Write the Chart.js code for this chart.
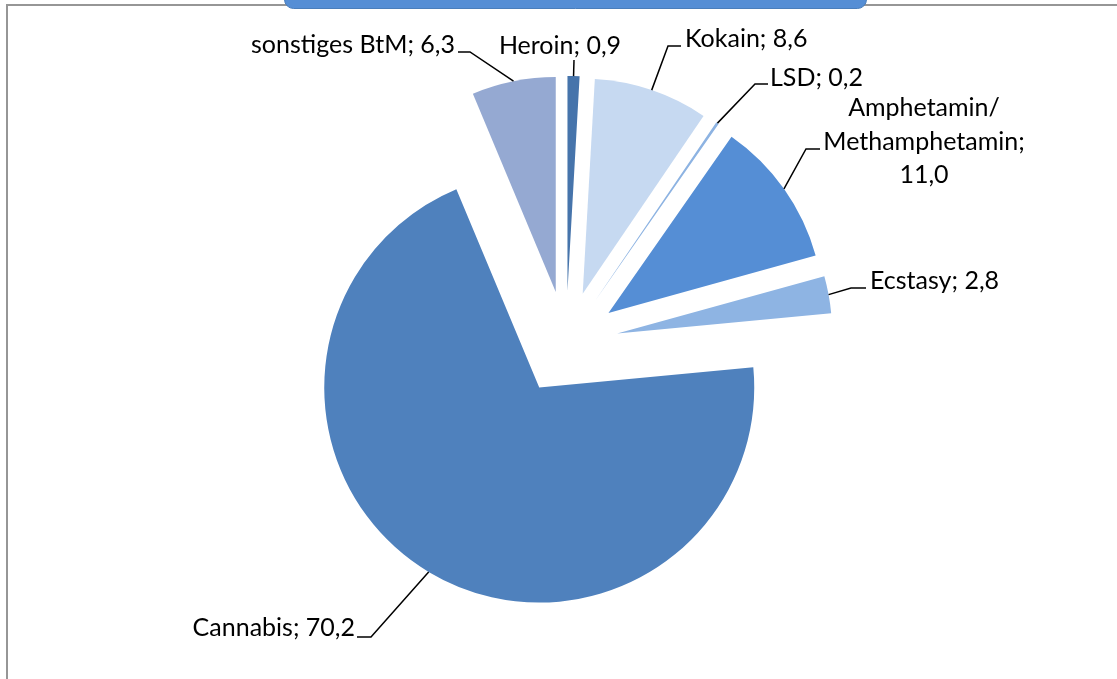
<!DOCTYPE html>
<html>
<head>
<meta charset="utf-8">
<script src="https://cdn.jsdelivr.net/npm/chart.js@4/dist/chart.umd.min.js"></script>
<style>
  html, body { margin: 0; padding: 0; background: #fff; }
  #wrap { width: 1117px; height: 679px; position: relative; }
</style>
</head>
<body>
<div id="wrap"><canvas id="pie"></canvas></div>
<script>
// Anteile der Substanzen in Prozent, im Uhrzeigersinn ab 12 Uhr
var categories = ['Heroin', 'Kokain', 'LSD', 'Amphetamin/Methamphetamin', 'Ecstasy', 'Cannabis', 'sonstiges BtM'];
var shares = [0.9, 8.6, 0.2, 11.0, 2.8, 70.2, 6.3];
var colors = ['#4674AB', '#C6D9F1', '#8DB3E2', '#558ED5', '#8EB4E3', '#4F81BD', '#95A9D2'];

// wo die Beschriftungen stehen und wo die Führungslinie abknickt
var labelLayout = [
  { x: 560, y: 46, align: 'center', leader: [[574, 60]] },
  { x: 685, y: 39, align: 'left', leader: [[681, 46], [668, 46]] },
  { x: 770, y: 78, align: 'left', leader: [[768, 84], [755, 84]] },
  { x: 924, y: 108, align: 'center', wrap: true, leader: [[820, 149], [806, 149]] },
  { x: 870, y: 281, align: 'left', leader: [[866, 288], [851, 288]] },
  { x: 355, y: 628, align: 'right', leader: [[357, 637], [371, 637]] },
  { x: 455, y: 45, align: 'right', leader: [[458, 52], [470, 52]] }
];

var EXPLODE = 52;
var FONT = '25px Lato';
var LINE_HEIGHT = 33.5;

function fmt(v) {
  return v.toFixed(1).replace('.', ',');
}

function labelLines(i) {
  if (!labelLayout[i].wrap) return [categories[i] + '; ' + fmt(shares[i])];
  var parts = categories[i].split('/');
  return [parts[0] + '/', parts[1] + ';', fmt(shares[i])];
}

// Kreissegment, das entlang seiner Winkelhalbierenden herausgezogen wird
class ExplodedArc extends Chart.ArcElement {
  draw(ctx) {
    var mid = (this.startAngle + this.endAngle) / 2;
    ctx.save();
    ctx.translate(Math.cos(mid) * EXPLODE, Math.sin(mid) * EXPLODE);
    super.draw(ctx);
    ctx.restore();
  }
}
ExplodedArc.id = 'explodedArc';

class ExplodedPie extends Chart.PieController {}
ExplodedPie.id = 'explodedPie';
ExplodedPie.defaults = { dataElementType: 'explodedArc' };

Chart.register(ExplodedArc, ExplodedPie);

var decor = {
  id: 'decor',
  beforeDraw: function(chart) {
    var ctx = chart.ctx;
    ctx.save();
    // Rahmen
    ctx.strokeStyle = '#969696';
    ctx.lineWidth = 2;
    ctx.beginPath();
    ctx.moveTo(7, 690);
    ctx.lineTo(7, 5);
    ctx.lineTo(1130, 5);
    ctx.stroke();
    // angeschnittener Titelbalken
    ctx.fillStyle = '#558ED5';
    ctx.strokeStyle = '#4A7EBB';
    ctx.lineWidth = 1;
    ctx.beginPath();
    ctx.roundRect(284.5, -12, 582, 20.5, 9);
    ctx.fill();
    ctx.stroke();
    ctx.restore();
  },
  afterDatasetsDraw: function(chart) {
    var ctx = chart.ctx;
    var arcs = chart.getDatasetMeta(0).data;
    ctx.save();
    ctx.strokeStyle = '#000';
    ctx.lineWidth = 1.5;
    ctx.fillStyle = '#000';
    ctx.font = FONT;
    ctx.textBaseline = 'middle';
    arcs.forEach(function(arc, i) {
      var p = arc.getProps(['x', 'y', 'startAngle', 'endAngle', 'outerRadius'], true);
      var mid = (p.startAngle + p.endAngle) / 2;
      var r = p.outerRadius + EXPLODE;
      var ax = p.x + Math.cos(mid) * r;
      var ay = p.y + Math.sin(mid) * r;
      var lay = labelLayout[i];
      ctx.beginPath();
      lay.leader.forEach(function(pt, k) {
        if (k === 0) ctx.moveTo(pt[0], pt[1]); else ctx.lineTo(pt[0], pt[1]);
      });
      ctx.lineTo(ax, ay);
      ctx.stroke();
      ctx.textAlign = lay.align;
      labelLines(i).forEach(function(line, k) {
        ctx.fillText(line, lay.x, lay.y + k * LINE_HEIGHT);
      });
    });
    ctx.restore();
  }
};

new Chart(document.getElementById('pie'), {
  type: 'explodedPie',
  data: {
    labels: categories,
    datasets: [{
      data: shares,
      backgroundColor: colors,
      borderWidth: 0,
      hoverOffset: 0
    }]
  },
  options: {
    responsive: true,
    maintainAspectRatio: false,
    animation: false,
    radius: 215,
    layout: { padding: { left: 115, right: 100, top: 57, bottom: 50 } },
    plugins: {
      legend: { display: false },
      tooltip: { enabled: false }
    }
  },
  plugins: [decor]
});
</script>
</body>
</html>
